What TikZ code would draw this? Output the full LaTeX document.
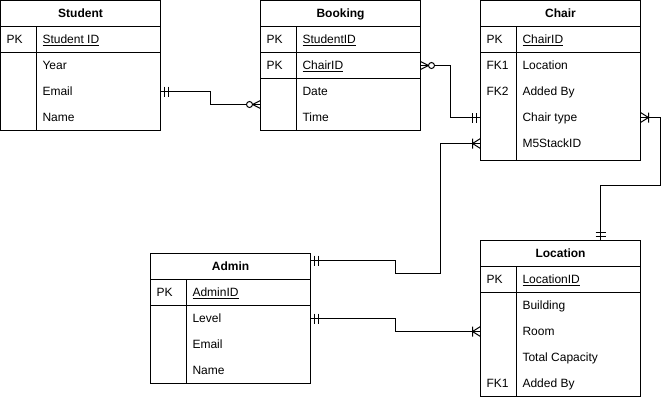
\documentclass[tikz,border=0pt]{standalone}
\usepackage{fontspec}
\setmainfont{Liberation Sans}

\tikzset{
	ent/.style={draw, anchor=north west, minimum width=160pt, inner sep=0pt, outer sep=0pt},
	ttl/.style={font=\fontsize{12pt}{14pt}\selectfont\bfseries, inner sep=0pt, text height=8.6pt, text depth=0pt},
	fld/.style={anchor=west, inner sep=0pt, text height=8.6pt, text depth=0pt},
	pics/one/.style={code={\draw (4,-5) -- (4,5) (8,-5) -- (8,5);}},
	pics/zmany/.style={code={\draw (0,-4) -- (8,0) -- (0,4); \draw[fill=white] (11,0) circle (3pt);}},
	pics/omany/.style={code={\draw (0,-5) -- (8,0) -- (0,5) (8,-5) -- (8,5);}},
}

\begin{document}
\begin{tikzpicture}[x=1pt, y=-1pt, line width=1pt, font=\fontsize{12pt}{14pt}\selectfont]
	\useasboundingbox (0,0) rectangle (670,400);

	% Student
	\node[ent, minimum height=130pt] (student) at (0.5,0.5) {};
	\node[ttl] (student-t) at (80.5,13.5) {Student};
	\draw (0.5,26.5) -- (160.5,26.5) (0.5,52.5) -- (160.5,52.5) (36.5,26.5) -- (36.5,130.5);
	\node[fld] (student-pk) at (6,39.5) {PK};
	\node[fld] (student-id) at (42,39.5) {\underline{Student ID}};
	\node[fld] (student-year) at (42,65.5) {Year};
	\node[fld] (student-email) at (42,91.5) {Email};
	\node[fld] (student-name) at (42,117.5) {Name};

	% Booking
	\node[ent, minimum height=130pt] (booking) at (260.5,0.5) {};
	\node[ttl] (booking-t) at (340.5,13.5) {Booking};
	\draw (260.5,26.5) -- (420.5,26.5) (260.5,52.5) -- (420.5,52.5) (260.5,78.5) -- (420.5,78.5) (296.5,26.5) -- (296.5,130.5);
	\node[fld] (booking-pk1) at (266,39.5) {PK};
	\node[fld] (booking-studentid) at (302,39.5) {\underline{StudentID}};
	\node[fld] (booking-pk2) at (266,65.5) {PK};
	\node[fld] (booking-chairid) at (302,65.5) {\underline{ChairID}};
	\node[fld] (booking-date) at (302,91.5) {Date};
	\node[fld] (booking-time) at (302,117.5) {Time};

	% Chair
	\node[ent, minimum height=160pt] (chair) at (480.5,0.5) {};
	\node[ttl] (chair-t) at (560.5,13.5) {Chair};
	\draw (480.5,26.5) -- (640.5,26.5) (480.5,52.5) -- (640.5,52.5) (516.5,26.5) -- (516.5,160.5);
	\node[fld] (chair-pk) at (486,39.5) {PK};
	\node[fld] (chair-id) at (522,39.5) {\underline{ChairID}};
	\node[fld] (chair-fk1) at (486,65.5) {FK1};
	\node[fld] (chair-loc) at (522,65.5) {Location};
	\node[fld] (chair-fk2) at (486,91.5) {FK2};
	\node[fld] (chair-added) at (522,91.5) {Added By};
	\node[fld] (chair-type) at (522,117.5) {Chair type};
	\node[fld] (chair-m5) at (522,143.5) {M5StackID};

	% Admin
	\node[ent, minimum height=130pt] (admin) at (150.5,253.5) {};
	\node[ttl] (admin-t) at (230.5,266.5) {Admin};
	\draw (150.5,279.5) -- (310.5,279.5) (150.5,305.5) -- (310.5,305.5) (186.5,279.5) -- (186.5,383.5);
	\node[fld] (admin-pk) at (156,292.5) {PK};
	\node[fld] (admin-id) at (192,292.5) {\underline{AdminID}};
	\node[fld] (admin-level) at (192,318.5) {Level};
	\node[fld] (admin-email) at (192,344.5) {Email};
	\node[fld] (admin-name) at (192,370.5) {Name};

	% Location
	\node[ent, minimum height=156pt] (location) at (480.5,240.5) {};
	\node[ttl] (location-t) at (560.5,253.5) {Location};
	\draw (480.5,266.5) -- (640.5,266.5) (480.5,292.5) -- (640.5,292.5) (516.5,266.5) -- (516.5,396.5);
	\node[fld] (location-pk) at (486,279.5) {PK};
	\node[fld] (location-id) at (522,279.5) {\underline{LocationID}};
	\node[fld] (location-building) at (522,305.5) {Building};
	\node[fld] (location-room) at (522,331.5) {Room};
	\node[fld] (location-cap) at (522,357.5) {Total Capacity};
	\node[fld] (location-fk1) at (486,383.5) {FK1};
	\node[fld] (location-added) at (522,383.5) {Added By};

	% relations
	\draw (student-email -| student.east) -| (210.5,104.5) -- ([yshift=26pt]booking.south west);
	\draw (booking-chairid -| booking.east) -| (450.5,117.5) -- (chair-type -| chair.west);
	\draw ([yshift=-7pt]admin.north east) -| (395.5,273.5) -| (440.5,143.5) -- (chair-m5 -| chair.west);
	\draw (chair-type -| chair.east) -| (660.5,185.5) -| ([xshift=40pt]location.north);
	\draw (admin-level -| admin.east) -| (395.5,331.5) -- (location-room -| location.west);

	% ends
	\pic at (student-email -| student.east) {one};
	\pic[rotate=180] at ([yshift=26pt]booking.south west) {zmany};
	\pic at (booking-chairid -| booking.east) {zmany};
	\pic[rotate=180] at (chair-type -| chair.west) {one};
	\pic at ([yshift=-7pt]admin.north east) {one};
	\pic[rotate=180] at (chair-m5 -| chair.west) {omany};
	\pic at (chair-type -| chair.east) {omany};
	\pic[rotate=90] at ([xshift=40pt]location.north) {one};
	\pic at (admin-level -| admin.east) {one};
	\pic[rotate=180] at (location-room -| location.west) {omany};
\end{tikzpicture}
\end{document}
